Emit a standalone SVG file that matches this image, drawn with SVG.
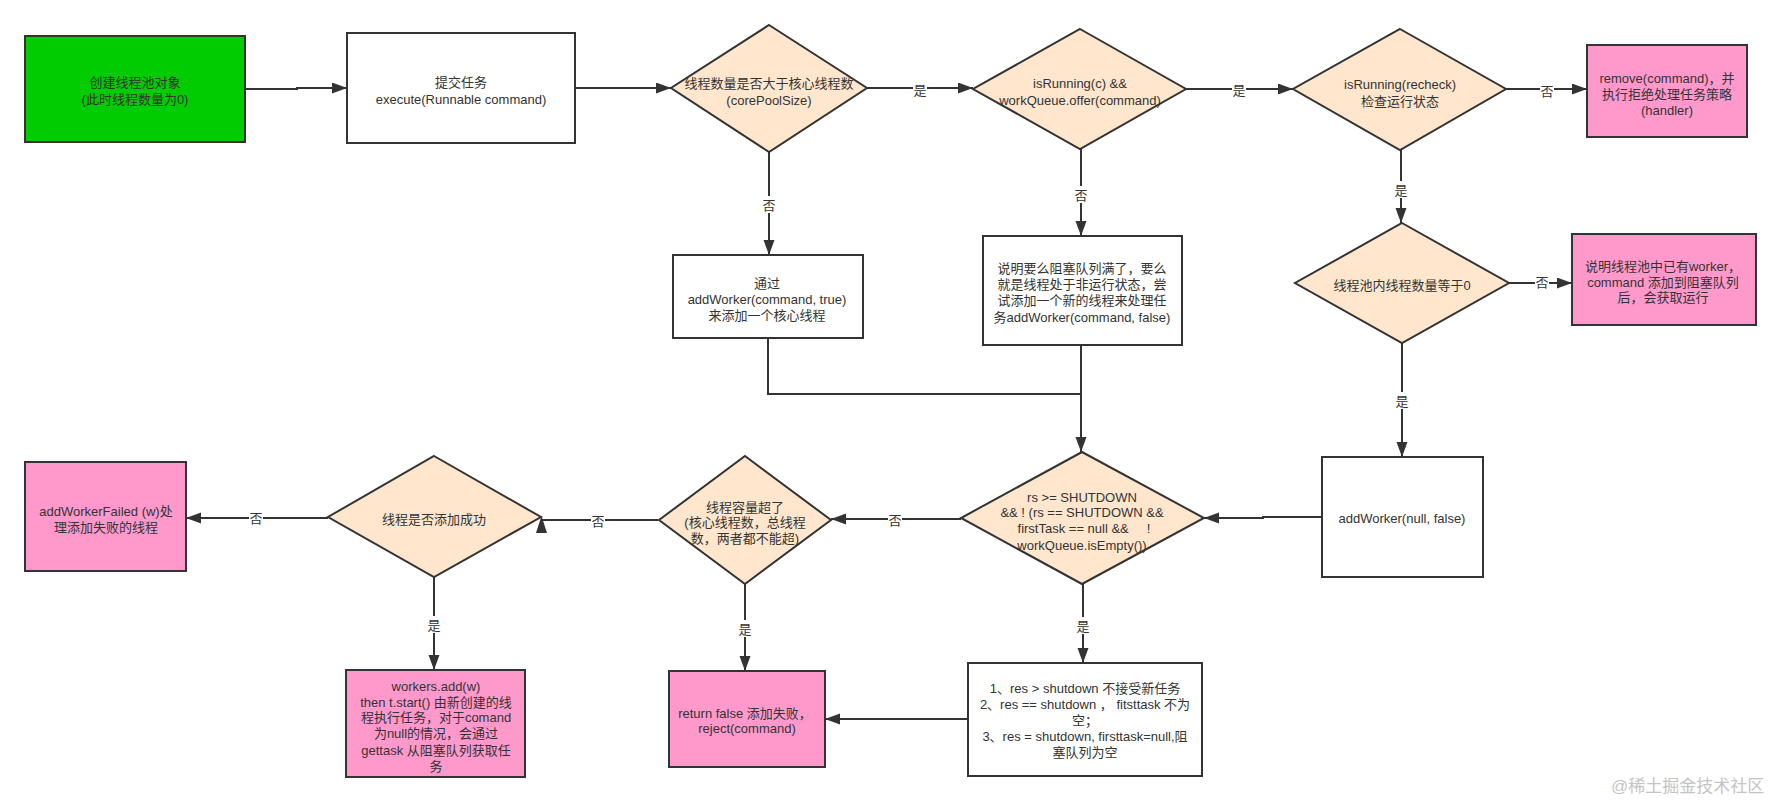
<svg xmlns="http://www.w3.org/2000/svg" width="1779" height="801" viewBox="0 0 1779 801">
<defs>
<style>
text{font-family:"Liberation Sans","Noto Sans CJK SC",sans-serif;font-size:13px;fill:#333;text-anchor:middle}
.box{stroke:#333;stroke-width:2}
.w{fill:#fff}
.g{fill:#00cc00}
.p{fill:#ff99cc}
.d{fill:#ffe6cc}
.c{fill:none;stroke:#333;stroke-width:2}
.lb{fill:#fff}
.wm{font-size:17px;fill:#c4c4c4;text-anchor:start}
</style>
<marker id="a" markerUnits="userSpaceOnUse" markerWidth="16" markerHeight="12" refX="15" refY="5.5" orient="auto">
<path d="M0,0 L15,5.5 L0,11 z" fill="#333"/>
</marker>
</defs>
<rect width="1779" height="801" fill="#fff"/>

<g id="connectors">
<path class="c" d="M245,89 H297 V88 H347" marker-end="url(#a)"/>
<path class="c" d="M575,88 H671" marker-end="url(#a)"/>
<path class="c" d="M867,88 H973" marker-end="url(#a)"/>
<path class="c" d="M1186,89 H1293" marker-end="url(#a)"/>
<path class="c" d="M1506,89 H1587" marker-end="url(#a)"/>
<path class="c" d="M769,152 V255" marker-end="url(#a)"/>
<path class="c" d="M1081,149 V236" marker-end="url(#a)"/>
<path class="c" d="M1401,150 V223" marker-end="url(#a)"/>
<path class="c" d="M1509,283 H1572" marker-end="url(#a)"/>
<path class="c" d="M1402,343 V457" marker-end="url(#a)"/>
<path class="c" d="M768,338 V394 H1081"/>
<path class="c" d="M1081,345 V452" marker-end="url(#a)"/>
<path class="c" d="M1322,517 H1263 V518 H1204" marker-end="url(#a)"/>
<path class="c" d="M961,519 H831" marker-end="url(#a)"/>
<path class="c" d="M658,520 H541"/>
<polygon points="541.5,516 547,533 536,533" fill="#333"/>
<path class="c" d="M328,518 H186" marker-end="url(#a)"/>
<path class="c" d="M434,577 V670" marker-end="url(#a)"/>
<path class="c" d="M745,584 V671" marker-end="url(#a)"/>
<path class="c" d="M1083,584 V663" marker-end="url(#a)"/>
<path class="c" d="M968,719 H825" marker-end="url(#a)"/>

<rect class="lb" x="913" y="81" width="14" height="17"/><text x="920" y="95">是</text>
<rect class="lb" x="1232" y="81" width="14" height="17"/><text x="1239" y="95">是</text>
<rect class="lb" x="1540" y="82" width="14" height="17"/><text x="1547" y="96">否</text>
<rect class="lb" x="762" y="196" width="14" height="17"/><text x="769" y="209.5">否</text>
<rect class="lb" x="1074" y="186" width="14" height="17"/><text x="1081" y="199.5">否</text>
<rect class="lb" x="1394" y="181" width="14" height="17"/><text x="1401" y="194.5">是</text>
<rect class="lb" x="1535" y="274" width="14" height="17"/><text x="1542" y="287">否</text>
<rect class="lb" x="1395" y="392" width="14" height="17"/><text x="1402" y="405.5">是</text>
<rect class="lb" x="888" y="511" width="14" height="17"/><text x="895" y="524.5">否</text>
<rect class="lb" x="591" y="512" width="14" height="17"/><text x="598" y="525.5">否</text>
<rect class="lb" x="249" y="509" width="14" height="17"/><text x="256" y="522.5">否</text>
<rect class="lb" x="427" y="616" width="14" height="17"/><text x="434" y="629.5">是</text>
<rect class="lb" x="738" y="620" width="14" height="17"/><text x="745" y="633.5">是</text>
<rect class="lb" x="1076" y="617" width="14" height="17"/><text x="1083" y="630.5">是</text>
</g>

<g id="n-create">
<rect class="box g" x="25" y="36" width="220" height="106"/>
<text x="135" y="86.5">创建线程池对象</text>
<text x="135" y="103.5">(此时线程数量为0)</text>
</g>

<g id="n-submit">
<rect class="box w" x="347" y="33" width="228" height="110"/>
<text x="461" y="86.5">提交任务</text>
<text x="461" y="103.5">execute(Runnable command)</text>
</g>

<g id="n-core">
<polygon class="box d" points="769,25 867,88 769,152 671,88"/>
<text x="769" y="87.5">线程数量是否大于核心线程数</text>
<text x="769" y="104.5">(corePoolSize)</text>
</g>

<g id="n-offer">
<polygon class="box d" points="1080,29 1186,89 1080,149 973,89"/>
<text x="1080" y="87.5">isRunning(c) &amp;&amp;</text>
<text x="1080" y="104.5">workQueue.offer(command)</text>
</g>

<g id="n-recheck">
<polygon class="box d" points="1400,29 1506,89 1400,150 1293,89"/>
<text x="1400" y="89">isRunning(recheck)</text>
<text x="1400" y="105.5">检查运行状态</text>
</g>

<g id="n-remove">
<rect class="box p" x="1587" y="45" width="160" height="92"/>
<text x="1667" y="82.5">remove(command)，并</text>
<text x="1667" y="98.5">执行拒绝处理任务策略</text>
<text x="1667" y="114.5">(handler)</text>
</g>

<g id="n-addcore">
<rect class="box w" x="673" y="255" width="190" height="83"/>
<text x="767" y="287.5">通过</text>
<text x="767" y="303.5">addWorker(command, true)</text>
<text x="767" y="319.5">来添加一个核心线程</text>
</g>

<g id="n-queuefull">
<rect class="box w" x="983" y="236" width="199" height="109"/>
<text x="1082" y="272.5">说明要么阻塞队列满了，要么</text>
<text x="1082" y="288.5">就是线程处于非运行状态，尝</text>
<text x="1082" y="305">试添加一个新的线程来处理任</text>
<text x="1082" y="321.5">务addWorker(command, false)</text>
</g>

<g id="n-zero">
<polygon class="box d" points="1402,223 1509,283 1402,343 1295,283"/>
<text x="1402" y="290">线程池内线程数量等于0</text>
</g>

<g id="n-hasworker">
<rect class="box p" x="1572" y="234" width="184" height="91"/>
<text x="1663" y="270.5">说明线程池中已有worker，</text>
<text x="1663" y="286.5">command 添加到阻塞队列</text>
<text x="1663" y="301.5">后，会获取运行</text>
</g>

<g id="n-addnull">
<rect class="box w" x="1322" y="457" width="161" height="120"/>
<text x="1402" y="522.5">addWorker(null, false)</text>
</g>

<g id="n-shutdown">
<polygon class="box d" points="1082,452 1204,518 1082,584 961,518"/>
<text x="1082" y="501.5">rs &gt;= SHUTDOWN</text>
<text x="1082" y="516.5">&amp;&amp; ! (rs == SHUTDOWN &amp;&amp;</text>
<text x="1084" y="532.5" style="white-space:pre" xml:space="preserve">firstTask == null &amp;&amp;     !</text>
<text x="1082" y="549.5">workQueue.isEmpty())</text>
</g>

<g id="n-capacity">
<polygon class="box d" points="745,456 831,520 745,584 659,520"/>
<text x="745" y="511.5">线程容量超了</text>
<text x="745" y="526.5">(核心线程数，总线程</text>
<text x="745" y="542.5">数，两者都不能超)</text>
</g>

<g id="n-added">
<polygon class="box d" points="434,456 541,517 434,577 328,517"/>
<text x="434" y="523.5">线程是否添加成功</text>
</g>

<g id="n-failed">
<rect class="box p" x="25" y="462" width="161" height="109"/>
<text x="106" y="515.5">addWorkerFailed (w)处</text>
<text x="106" y="531.5">理添加失败的线程</text>
</g>

<g id="n-workers">
<rect class="box p" x="346" y="670" width="179" height="107"/>
<text x="436" y="690.5">workers.add(w)</text>
<text x="436" y="706.5">then t.start() 由新创建的线</text>
<text x="436" y="721.5">程执行任务，对于comand</text>
<text x="436" y="737.5">为null的情况，会通过</text>
<text x="436" y="754.5">gettask 从阻塞队列获取任</text>
<text x="436" y="770.5">务</text>
</g>

<g id="n-return">
<rect class="box p" x="669" y="671" width="156" height="96"/>
<text x="745" y="717.5">return false 添加失败，</text>
<text x="747" y="732.5">reject(command)</text>
</g>

<g id="n-res">
<rect class="box w" x="968" y="663" width="234" height="113"/>
<text x="1085" y="692.5">1、res &gt; shutdown 不接受新任务</text>
<text x="1085" y="708.5">2、res == shutdown ， fitsttask 不为</text>
<text x="1085" y="724.5">空；</text>
<text x="1085" y="740.5">3、res = shutdown, firsttask=null,阻</text>
<text x="1085" y="756.5">塞队列为空</text>
</g>

<text class="wm" x="1611" y="792">@稀土掘金技术社区</text>
</svg>
